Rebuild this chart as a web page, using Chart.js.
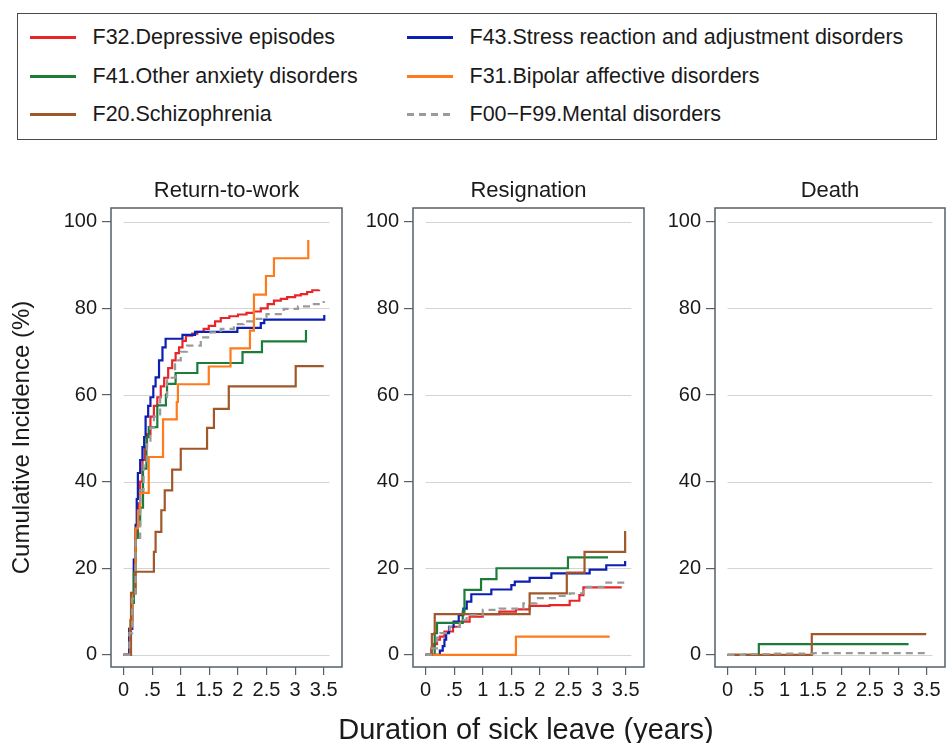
<!DOCTYPE html>
<html>
<head>
<meta charset="utf-8">
<script src="https://cdn.jsdelivr.net/npm/chart.js@4.4.1/dist/chart.umd.min.js"></script>
<style>
  body { margin: 0; background: #fff; width: 946px; height: 743px; overflow: hidden;
         font-family: 'Liberation Sans', Arial, sans-serif; color: #1a1a1a; }
  #legend { position: absolute; left: 17px; top: 13px; width: 920px; height: 127px;
            border: 1.5px solid #4a4a4a; box-sizing: border-box; }
  .item { position: absolute; height: 30px; display: flex; align-items: center;
          font-size: 21.5px; white-space: nowrap; }
  .swatch { width: 46px; height: 3px; margin-right: 17px; }
  canvas { position: absolute; top: 160px; }
  #xtitle { position: absolute; left: 326px; width: 400px; top: 715px; text-align: center;
            font-size: 29px; line-height: 29px; white-space: nowrap; }
</style>
</head>
<body>
<div id="legend"></div>
<canvas id="c-rtw" width="348" height="583" style="left:0px"></canvas>
<canvas id="c-res" width="300" height="583" style="left:350px"></canvas>
<canvas id="c-death" width="291" height="583" style="left:655px"></canvas>
<div id="xtitle"></div>

<script>
// series, in legend order (row by row)
const seriesNames = [
  'F32.Depressive episodes',
  'F43.Stress reaction and adjustment disorders',
  'F41.Other anxiety disorders',
  'F31.Bipolar affective disorders',
  'F20.Schizophrenia',
  'F00\u2212F99.Mental disorders'
];
const panelTitles = ['Return-to-work', 'Resignation', 'Death'];
const xAxisTitle = 'Duration of sick leave (years)';
const yAxisTitle = 'Cumulative Incidence (%)';

const xTickValues = [0, 0.5, 1, 1.5, 2, 2.5, 3, 3.5];
const xTickLabels = ['0', '.5', '1', '1.5', '2', '2.5', '3', '3.5'];
const yTickValues = [0, 20, 40, 60, 80, 100];
const yTickLabels = ['0', '20', '40', '60', '80', '100'];

// [years, cumulative incidence %] — step points (value holds until next point)
const rtwF32 = [[0,0],[0.06,0],[0.1,6],[0.15,14],[0.18,22],[0.21,29],[0.25,35],[0.29,40],[0.33,45],[0.37,48],[0.41,51],[0.47,55],[0.53,57.5],[0.59,59.5],[0.65,62],[0.71,64],[0.78,66.2],[0.85,68],[0.91,69.7],[0.97,71],[1.03,72.5],[1.09,73.7],[1.2,74.2],[1.29,74.6],[1.4,75.3],[1.49,76],[1.6,77],[1.7,77.8],[1.85,78.2],[2.0,78.6],[2.15,79],[2.28,79.3],[2.4,80],[2.52,81],[2.63,81.8],[2.75,82.2],[2.86,82.6],[3.0,83],[3.1,83.3],[3.21,83.8],[3.3,84.2],[3.42,84.3]];
const rtwF43 = [[0,0],[0.06,0],[0.1,6],[0.15,14],[0.18,22],[0.21,30],[0.23,36],[0.25,42],[0.29,45],[0.33,48],[0.36,50.3],[0.385,55],[0.43,57.5],[0.47,59.5],[0.52,62],[0.56,64.1],[0.62,68],[0.68,71],[0.735,73],[1.03,73.9],[1.25,74.6],[1.99,75.5],[2.4,76.6],[2.46,77.4],[3.51,78.5]];
const rtwF41 = [[0,0],[0.07,0],[0.12,8],[0.15,12],[0.18,19],[0.21,27],[0.25,30],[0.29,34],[0.34,43],[0.4,50.3],[0.44,52.6],[0.59,57.6],[0.74,60.1],[0.76,62.6],[0.91,65.1],[1.29,67.4],[2.08,69.9],[2.42,72.4],[3.19,75.0]];
const rtwF31 = [[0,0],[0.08,0],[0.12,8],[0.15,14.3],[0.21,29.2],[0.25,33.4],[0.29,37.4],[0.44,45.7],[0.69,54.4],[0.93,58.4],[0.95,62.5],[1.49,66.6],[1.87,70.8],[2.21,74.9],[2.28,83.2],[2.49,87.5],[2.63,91.6],[3.23,95.8]];
const rtwF20 = [[0,0],[0.08,0],[0.13,14.3],[0.21,19.2],[0.53,23.8],[0.56,28.4],[0.66,33.4],[0.72,38.0],[0.85,42.8],[1.0,47.6],[1.46,52.4],[1.58,56.8],[1.84,62.0],[3.01,66.7],[3.5,66.7]];
const rtwAll = [[0,0],[0.06,0],[0.1,5],[0.15,13],[0.21,27],[0.29,38],[0.35,44],[0.41,49],[0.47,52.5],[0.53,55],[0.64,59.5],[0.76,64],[0.9,68],[1.0,70],[1.11,71.4],[1.35,73.3],[1.52,74.5],[1.7,75.3],[1.93,76.4],[2.1,77],[2.28,77.6],[2.5,78.7],[2.8,79.9],[3.05,80.5],[3.27,81],[3.5,81.7]];

const resF32 = [[0,0],[0.05,0],[0.1,1.5],[0.15,2.5],[0.2,3.5],[0.25,4.2],[0.33,5.4],[0.48,6.5],[0.6,7.7],[0.77,8.8],[1.0,9.4],[1.29,10.0],[1.58,10.5],[1.82,11.3],[2.17,11.5],[2.52,12.5],[2.69,13.8],[2.76,15.6],[3.43,15.6]];
const resF43 = [[0,0],[0.2,0],[0.25,1],[0.3,2],[0.33,3.5],[0.36,5],[0.41,6.5],[0.49,7.7],[0.58,9.2],[0.66,10.7],[0.72,12.3],[0.8,14],[1.15,15.1],[1.5,16.1],[1.56,16.9],[1.82,17.8],[2.2,18.8],[2.87,19.7],[3.16,20.7],[3.49,21.7]];
const resF41 = [[0,0],[0.14,0],[0.16,5],[0.2,7.4],[0.65,10],[0.68,15],[0.97,17.5],[1.24,20],[2.49,22.5],[3.19,22.5]];
const resF31 = [[0,0],[1.58,4.2],[3.22,4.2]];
const resF20 = [[0,0],[0.11,4.8],[0.16,9.4],[1.82,14.2],[2.47,19.0],[2.78,23.8],[3.49,28.6]];
const resAll = [[0,0],[0.05,0],[0.1,1.5],[0.2,4],[0.26,5],[0.42,6.5],[0.6,8.1],[0.72,9.2],[1.0,10.4],[1.29,10.7],[1.71,11.9],[1.94,13.1],[2.28,13.6],[2.52,14.2],[2.76,15.7],[3.11,16.7],[3.5,17.3]];

const deathF41 = [[0,0],[0.55,2.5],[3.18,2.5]];
const deathF20 = [[0,0],[1.48,4.8],[3.49,4.8]];
const deathAll = [[0,0],[0.3,0.2],[0.8,0.3],[1.5,0.4],[3.5,0.5]];

// per panel, series in legend order (null = not drawn)
const panelSeries = [
  [rtwF32, rtwF43, rtwF41, rtwF31, rtwF20, rtwAll],
  [resF32, resF43, resF41, resF31, resF20, resAll],
  [null, null, deathF41, null, deathF20, deathAll]
];

// styles
const seriesColors = ['#e8262a', '#0d1fb3', '#1b7d3a', '#ff7a1a', '#a0582a', '#9a9a9a'];
const seriesDash = [[], [], [], [], [], [7, 5]];
const TEXT = '#1a1a1a';
const FRAME = '#56606a';
const FONT = "'Liberation Sans', Arial, sans-serif";

// legend
const legend = document.getElementById('legend');
seriesNames.forEach((name, i) => {
  const row = Math.floor(i / 2), col = i % 2;
  const item = document.createElement('div');
  item.className = 'item';
  item.style.left = (col === 0 ? 11.5 : 388.5) + 'px';
  item.style.top = (23.5 + row * 38.5 - 15) + 'px';
  const sw = document.createElement('div');
  sw.className = 'swatch';
  sw.style.background = seriesDash[i].length
    ? `repeating-linear-gradient(90deg, ${seriesColors[i]} 0 7px, transparent 7px 12px)`
    : seriesColors[i];
  item.appendChild(sw);
  const label = document.createElement('span');
  label.textContent = name;
  item.appendChild(label);
  legend.appendChild(item);
});
document.getElementById('xtitle').textContent = xAxisTitle;

// light gridlines (x = 0 .. 3.6) and the plot frame
const framePlugin = {
  id: 'frame',
  beforeDatasetsDraw(chart) {
    const { ctx, chartArea: a, scales: { x, y } } = chart;
    ctx.save();
    ctx.strokeStyle = '#d4d4d4';
    ctx.lineWidth = 1;
    const x0 = x.getPixelForValue(0), x1 = x.getPixelForValue(3.6);
    yTickValues.forEach(v => {
      const py = Math.round(y.getPixelForValue(v)) + 0.5;
      ctx.beginPath();
      ctx.moveTo(x0, py);
      ctx.lineTo(x1, py);
      ctx.stroke();
    });
    ctx.strokeStyle = FRAME;
    ctx.lineWidth = 1.5;
    ctx.strokeRect(a.left, a.top, a.right - a.left, a.bottom - a.top);
    ctx.restore();
  }
};

function makePanel(canvasId, p, yAxisWidth, padRight) {
  const datasets = [];
  panelSeries[p].forEach((pts, i) => {
    if (!pts) return;
    datasets.push({
      label: seriesNames[i],
      data: pts.map(([x, y]) => ({ x, y })),
      borderColor: seriesColors[i],
      borderDash: seriesDash[i],
      borderWidth: 2.2,
      stepped: true,
      pointRadius: 0,
      fill: false,
      order: seriesNames.length - i
    });
  });

  new Chart(document.getElementById(canvasId), {
    type: 'line',
    data: { datasets },
    options: {
      responsive: false,
      animation: false,
      events: [],
      layout: { padding: { left: 0, right: padRight, top: 0, bottom: 0 } },
      plugins: {
        legend: { display: false },
        tooltip: { enabled: false },
        title: {
          display: true,
          text: panelTitles[p],
          fullSize: false,
          color: TEXT,
          font: { family: FONT, size: 22, weight: 'normal' },
          padding: { top: 18, bottom: 3.6 }
        }
      },
      scales: {
        x: {
          type: 'linear',
          min: -0.22,
          max: 3.82,
          afterBuildTicks: s => { s.ticks = xTickValues.map(v => ({ value: v })); },
          afterFit: s => { s.height = 76; },
          ticks: {
            callback: (v, i) => xTickLabels[i],
            color: TEXT,
            font: { family: FONT, size: 20 },
            padding: 3,
            maxRotation: 0,
            autoSkip: false
          },
          grid: { drawOnChartArea: false, drawTicks: true, tickLength: 8, color: FRAME, lineWidth: 1.2 },
          border: { display: false }
        },
        y: {
          type: 'linear',
          min: -2.8,
          max: 103.2,
          afterBuildTicks: s => { s.ticks = yTickValues.map(v => ({ value: v })); },
          afterFit: s => { s.width = yAxisWidth; },
          ticks: {
            callback: (v, i) => yTickLabels[i],
            color: TEXT,
            font: { family: FONT, size: 20 },
            padding: 5
          },
          grid: { drawOnChartArea: false, drawTicks: true, tickLength: 9, color: FRAME, lineWidth: 1.2 },
          border: { display: false },
          title: {
            display: p === 0,
            text: yAxisTitle,
            color: TEXT,
            font: { family: FONT, size: 24, lineHeight: 1 },
            padding: { top: 10, bottom: 0 }
          }
        }
      }
    },
    plugins: [framePlugin]
  });
}

makePanel('c-rtw', 0, 111, 6);
makePanel('c-res', 1, 63, 6);
makePanel('c-death', 2, 60, 1);
</script>
</body>
</html>
